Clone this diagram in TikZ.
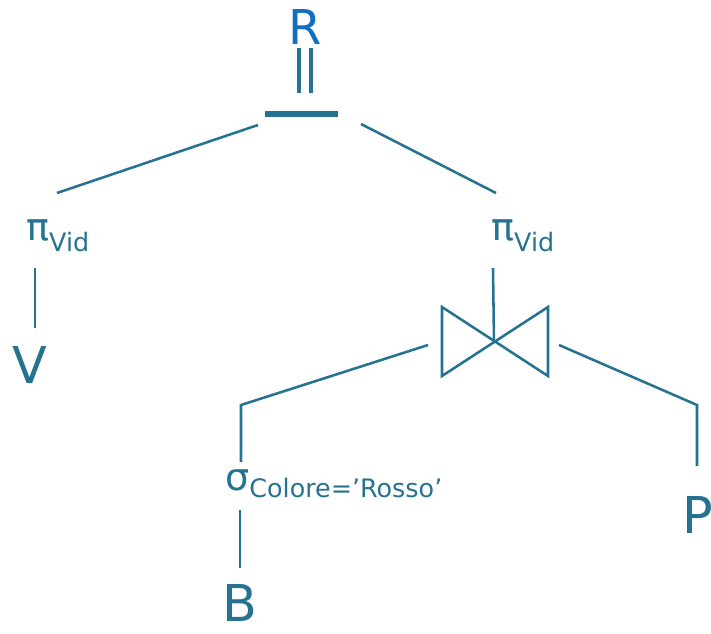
\documentclass[tikz,border=0pt]{standalone}
\usepackage{fontspec}
\setmainfont{DejaVu Sans}
\definecolor{treeteal}{RGB}{38,115,145}
\definecolor{resblue}{RGB}{16,112,192}
\newcommand{\relname}[1]{{\fontsize{36}{36}\selectfont #1}}
\newcommand{\opsym}[1]{{\fontsize{27}{27}\selectfont #1}}
\newcommand{\opsub}[2]{\raisebox{#1}{\fontsize{18}{18}\selectfont #2}}
\tikzset{
  edge/.style={treeteal, line width=1.8pt},
  leaf/.style={treeteal, inner sep=0pt, anchor=base},
  oper/.style={treeteal, inner sep=0pt, anchor=base west},
}
\begin{document}
\begin{tikzpicture}[x=0.7087pt, y=-0.7087pt]
    \useasboundingbox (0,0) rectangle (711,633);

    % Result R with the root operator
    \node[leaf, text=resblue] (res) at (305,44) {\fontsize{34}{34}\selectfont R};
    \draw[edge, line width=2.2pt] (299,48) -- (299,93);
    \draw[edge, line width=2.2pt] (311,48) -- (311,93);
    \draw[edge, line width=4.8pt] (265,114) coordinate (barl) -- (338,114) coordinate (barr);

    % Projections
    \node[oper] (projl) at (26,240) {\opsym{π}\opsub{-8pt}{Vid}};
    \node[oper] (projr) at (491,240) {\opsym{π}\opsub{-8pt}{Vid}};

    % Join (bowtie)
    \draw[edge] (442,307) -- (442,376) -- (548,307) -- (548,376) -- cycle;
    \coordinate (join) at (494,342);

    % Selection
    \node[oper] (sel) at (225,490) {\opsym{σ}\opsub{-5pt}{Colore=’Rosso’}};

    % Relations
    \node[leaf] (relv) at (30,383) {\relname{V}};
    \node[leaf] (relb) at (240,621) {\relname{B}};
    \node[oper] (relp) at (682,533) {\relname{P}};

    % Edges from the root
    \coordinate (rl1) at (258,125); \coordinate (rl2) at (57,193);
    \coordinate (rr1) at (361,124); \coordinate (rr2) at (496,193);
    \draw[edge] (rl1) -- (rl2);
    \draw[edge] (rr1) -- (rr2);

    % Projection to V and to the join
    \coordinate (pl1) at (35,268); \coordinate (pl2) at (35,328);
    \coordinate (pr1) at (493,268);
    \draw[edge] (pl1) -- (pl2);
    \draw[edge] (pr1) -- (join);

    % Join to selection and to P
    \coordinate (jl1) at (428,345); \coordinate (jl2) at (241,405); \coordinate (jl3) at (241,462);
    \coordinate (jr1) at (559,345); \coordinate (jr2) at (697,405); \coordinate (jr3) at (697,466);
    \draw[edge] (jl1) -- (jl2) -- (jl3);
    \draw[edge] (jr1) -- (jr2) -- (jr3);

    % Selection to B
    \coordinate (sb1) at (240,510); \coordinate (sb2) at (240,568);
    \draw[edge] (sb1) -- (sb2);

\end{tikzpicture}
\end{document}
